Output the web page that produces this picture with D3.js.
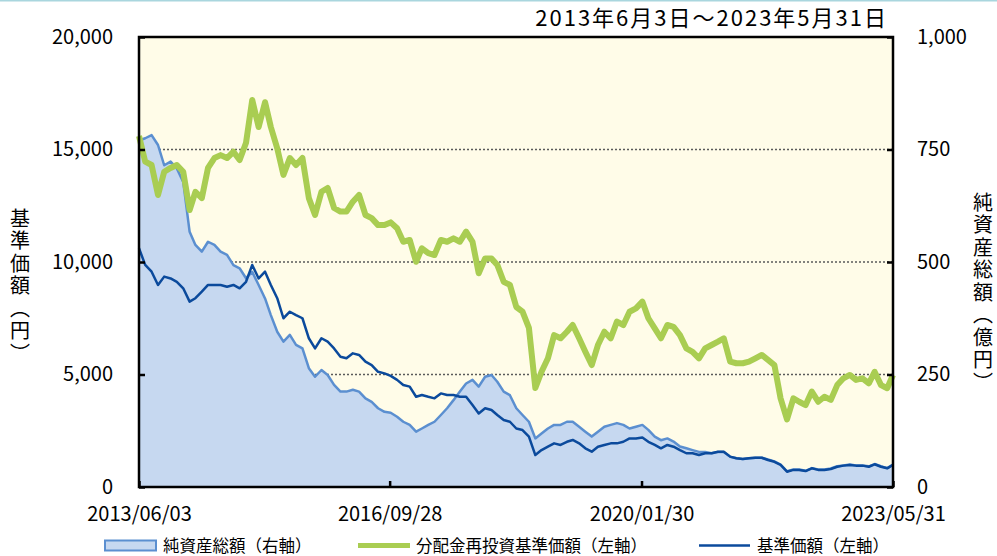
<!DOCTYPE html>
<html>
<head>
<meta charset="utf-8">
<script src="https://cdn.jsdelivr.net/npm/d3@7"></script>
<style>
  body { margin: 0; background: #fff; }
  text { font-family: "Noto Sans CJK JP", sans-serif; fill: #000; }
</style>
</head>
<body>
<svg id="chart" width="997" height="556"></svg>
<script>
// period shown, one point per month, last point on the closing date
const startDate = new Date(2013, 5, 3);
const endDate = new Date(2023, 4, 31);
const monthCount = 121;

// 分配金再投資基準価額 (left axis, yen)
const reinvestNav = [
  15600, 14460, 14310, 12980, 14010, 14180, 14310, 14010, 12310, 13120,
  12840, 14180, 14620, 14750, 14620, 14900, 14530, 15300, 17200, 16000,
  17100, 16000, 15050, 13870, 14620, 14310, 14620, 12840, 12090, 13120,
  13290, 12400, 12240, 12240, 12680, 12980, 12090, 11950, 11640, 11640,
  11760, 11500, 10900, 10980, 10010, 10610, 10390, 10310, 10980, 10900,
  11050, 10900, 11350, 10900, 9500, 10160, 10160, 9870, 9120, 8980,
  8000, 7790, 7070, 4400, 5120, 5720, 6750, 6610, 6900, 7200,
  6610, 6010, 5420, 6310, 6900, 6610, 7350, 7200, 7790, 7940,
  8240, 7500, 7050, 6610, 7200, 7120, 6750, 6160, 6010, 5720,
  6160, 6310, 6460, 6610, 5570, 5500, 5500, 5570, 5720, 5870,
  5650, 5420, 3940, 3000, 3940, 3790, 3640, 4240, 3790, 4010,
  3870, 4530, 4830, 4980, 4760, 4830, 4610, 5120, 4530, 4390,
  4980
];

// 基準価額 (left axis, yen)
const nav = [
  10610, 9870, 9570, 8980, 9350, 9270, 9120, 8830, 8240, 8390,
  8680, 8980, 8980, 8980, 8900, 8980, 8830, 9120, 9870, 9270,
  9570, 8980, 8390, 7500, 7790, 7640, 7500, 6610, 6160, 6610,
  6460, 6160, 5790, 5720, 5940, 5870, 5570, 5420, 5120, 5050,
  4940, 4760, 4530, 4460, 4010, 4090, 4010, 3940, 4160, 4090,
  4090, 4010, 4010, 3640, 3270, 3500, 3420, 3200, 2980, 2900,
  2600, 2530, 2240, 1420, 1640, 1790, 1940, 1870, 2010, 2090,
  1940, 1720, 1570, 1790, 1870, 1940, 1940, 2010, 2160, 2160,
  2200, 2010, 1870, 1720, 1870, 1790, 1640, 1500, 1500, 1420,
  1500, 1500, 1570, 1570, 1350, 1280, 1240, 1280, 1300, 1300,
  1200, 1120, 980, 680, 760, 760, 710, 830, 760, 760,
  800, 900, 950, 980, 950, 950, 900, 1010, 900, 830,
  980
];

// 純資産総額 (right axis, 億円)
const netAssets = [
  770, 775, 782, 760, 715, 723, 708, 678, 567, 538,
  523, 545, 538, 523, 516, 493, 486, 464, 478, 449,
  419, 382, 345, 323, 338, 316, 308, 264, 245, 260,
  249, 227, 212, 212, 216, 212, 197, 189, 175, 167,
  165, 156, 145, 138, 123, 130, 138, 145, 160, 175,
  193, 212, 230, 238, 223, 245, 249, 234, 212, 204,
  175, 160, 145, 108, 119, 130, 138, 138, 145, 145,
  134, 123, 112, 123, 134, 138, 142, 138, 130, 134,
  138, 127, 112, 104, 108, 101, 90, 86, 82, 78,
  78, 75, 78, 78, 67, 64, 62, 64, 65, 65,
  61, 57, 50, 35, 39, 39, 36, 42, 39, 39,
  41, 46, 48, 50, 48, 48, 46, 51, 46, 42,
  50
];

const leftTicks = [0, 5000, 10000, 15000, 20000];
const rightTicks = [0, 250, 500, 750, 1000];
const dateTicks = ["2013/06/03", "2016/09/28", "2020/01/30", "2023/05/31"];

const titleText = "2013年6月3日～2023年5月31日";
const leftTitle = "基準価額（円）";
const rightTitle = "純資産総額（億円）";
const legendItems = ["純資産総額（右軸）", "分配金再投資基準価額（左軸）", "基準価額（左軸）"];

const dates = d3.range(monthCount).map(i =>
  i === monthCount - 1 ? endDate : d3.timeMonth.offset(startDate, i));
const parseDay = d3.timeParse("%Y/%m/%d");

const svg = d3.select("#chart");
const plotL = 139, plotR = 893, plotT = 37, plotB = 487;

const x = d3.scaleTime().domain([startDate, endDate]).range([plotL, plotR]);
const yL = d3.scaleLinear().domain([0, 20000]).range([plotB, plotT]);
const yR = d3.scaleLinear().domain([0, 1000]).range([plotB, plotT]);

// thin line along the top of the picture
svg.append("line")
  .attr("x1", 0).attr("x2", 997).attr("y1", 0.75).attr("y2", 0.75)
  .attr("stroke", "#a9d6de").attr("stroke-width", 1.5);

// plot background
svg.append("rect")
  .attr("x", plotL).attr("y", plotT)
  .attr("width", plotR - plotL).attr("height", plotB - plotT)
  .attr("fill", "#fffce8");

// dotted grid lines
svg.append("g")
  .selectAll("line")
  .data(leftTicks.slice(1, -1))
  .join("line")
  .attr("x1", plotL).attr("x2", plotR)
  .attr("y1", d => yL(d)).attr("y2", d => yL(d))
  .attr("stroke", "#5a5a5a")
  .attr("stroke-width", 1.3)
  .attr("stroke-dasharray", "2,2");

// net assets area (right axis)
const area = d3.area()
  .x((d, i) => x(dates[i]))
  .y0(plotB)
  .y1(d => yR(d));
svg.append("path")
  .datum(netAssets)
  .attr("d", area)
  .attr("fill", "#c6d8f0");

const lineR = d3.line().x((d, i) => x(dates[i])).y(d => yR(d));
const lineL = d3.line().x((d, i) => x(dates[i])).y(d => yL(d));

svg.append("path")
  .datum(netAssets)
  .attr("d", lineR)
  .attr("fill", "none")
  .attr("stroke", "#5b8fd0")
  .attr("stroke-width", 2.5)
  .attr("stroke-linejoin", "round");

svg.append("path")
  .datum(reinvestNav)
  .attr("d", lineL)
  .attr("fill", "none")
  .attr("stroke", "#a9cd52")
  .attr("stroke-width", 6)
  .attr("stroke-linejoin", "round");

svg.append("path")
  .datum(nav)
  .attr("d", lineL)
  .attr("fill", "none")
  .attr("stroke", "#0b4a9c")
  .attr("stroke-width", 2.5)
  .attr("stroke-linejoin", "round");

// axes, ticks pointing inward
const axisFont = g => g.selectAll("text").style("font-size", "20px");

svg.append("g")
  .attr("transform", `translate(${plotL},0)`)
  .call(d3.axisLeft(yL).tickValues(leftTicks).tickSize(-6).tickPadding(26)
    .tickFormat(d3.format(",")))
  .call(g => g.select(".domain").remove())
  .call(g => g.selectAll("line").attr("stroke", "#000").attr("stroke-width", 2.5))
  .call(axisFont);

svg.append("g")
  .attr("transform", `translate(${plotR},0)`)
  .call(d3.axisRight(yR).tickValues(rightTicks).tickSize(-6).tickPadding(24)
    .tickFormat(d3.format(",")))
  .call(g => g.select(".domain").remove())
  .call(g => g.selectAll("line").attr("stroke", "#000").attr("stroke-width", 2.5))
  .call(axisFont);

svg.append("g")
  .attr("transform", `translate(0,${plotB})`)
  .call(d3.axisBottom(x).tickValues(dateTicks.map(parseDay)).tickSize(-6).tickPadding(20)
    .tickFormat(d3.timeFormat("%Y/%m/%d")))
  .call(g => g.select(".domain").remove())
  .call(g => g.selectAll("line").attr("stroke", "#000").attr("stroke-width", 2.5))
  .call(axisFont);

// frame
svg.append("rect")
  .attr("x", plotL).attr("y", plotT)
  .attr("width", plotR - plotL).attr("height", plotB - plotT)
  .attr("fill", "none")
  .attr("stroke", "#000")
  .attr("stroke-width", 2.5);

// period title
svg.append("text")
  .attr("x", 888).attr("y", 26)
  .attr("text-anchor", "end")
  .style("font-size", "22px")
  .style("letter-spacing", "2px")
  .text(titleText);

// vertical axis titles
svg.append("text")
  .attr("x", 20).attr("y", 208)
  .style("writing-mode", "vertical-rl")
  .style("font-size", "20px")
  .style("letter-spacing", "2.5px")
  .text(leftTitle);

svg.append("text")
  .attr("x", 983).attr("y", 192)
  .style("writing-mode", "vertical-rl")
  .style("font-size", "20px")
  .style("letter-spacing", "2.5px")
  .text(rightTitle);

// legend
const legY = 545;
const leg = svg.append("g").style("font-size", "16.5px");
leg.append("rect")
  .attr("x", 105).attr("y", legY - 4.5).attr("width", 51).attr("height", 10)
  .attr("fill", "#c6d8f0").attr("stroke", "#5b8fd0").attr("stroke-width", 2);
leg.append("text").attr("x", 163).attr("y", legY).attr("dominant-baseline", "central").text(legendItems[0]);
leg.append("line")
  .attr("x1", 358).attr("x2", 410).attr("y1", legY + 0.5).attr("y2", legY + 0.5)
  .attr("stroke", "#a9cd52").attr("stroke-width", 5);
leg.append("text").attr("x", 416).attr("y", legY).attr("dominant-baseline", "central").text(legendItems[1]);
leg.append("line")
  .attr("x1", 699).attr("x2", 750).attr("y1", legY + 0.5).attr("y2", legY + 0.5)
  .attr("stroke", "#0b4a9c").attr("stroke-width", 2.5);
leg.append("text").attr("x", 757).attr("y", legY).attr("dominant-baseline", "central").text(legendItems[2]);
</script>
</body>
</html>
